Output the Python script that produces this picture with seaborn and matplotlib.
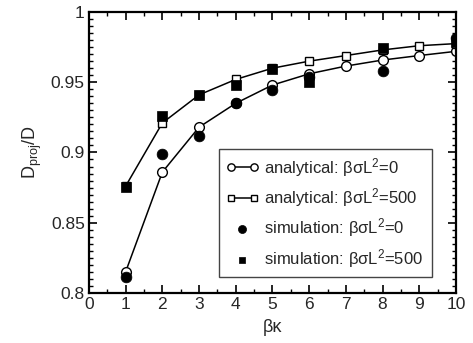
import matplotlib
matplotlib.use("Agg")
import matplotlib.pyplot as plt
import seaborn as sns
import pandas as pd
from matplotlib.ticker import MultipleLocator

sns.set_theme(style="ticks")
plt.rcParams['font.family'] = ['Liberation Sans', 'DejaVu Sans']
plt.rcParams['mathtext.fontset'] = 'custom'
plt.rcParams['mathtext.rm'] = 'Liberation Sans'
plt.rcParams['mathtext.it'] = 'Liberation Sans'

kappa = [1, 2, 3, 4, 5, 6, 7, 8, 9, 10]
analytical_0 = [0.815, 0.886, 0.918, 0.935, 0.948, 0.956, 0.9615, 0.9658, 0.969, 0.972]
analytical_500 = [0.876, 0.921, 0.941, 0.952, 0.960, 0.965, 0.969, 0.973, 0.976, 0.9775]

sim_kappa = [1, 2, 3, 4, 5, 6, 8, 10]
simulation_0 = [0.8116, 0.8987, 0.912, 0.9355, 0.9445, 0.9535, 0.958, 0.9813]
simulation_500 = [0.8757, 0.926, 0.941, 0.948, 0.9594, 0.950, 0.9746, 0.9789]

labels = [r"analytical: βσL$^{2}$=0", r"analytical: βσL$^{2}$=500",
          r"simulation: βσL$^{2}$=0", r"simulation: βσL$^{2}$=500"]

fig = plt.figure(figsize=(4.73, 3.43), dpi=100)
ax = fig.add_axes([0.188, 0.146, 0.776, 0.819])

df_a0 = pd.DataFrame({"x": kappa, "y": analytical_0})
df_a5 = pd.DataFrame({"x": kappa, "y": analytical_500})
df_s0 = pd.DataFrame({"x": sim_kappa, "y": simulation_0})
df_s5 = pd.DataFrame({"x": sim_kappa, "y": simulation_500})

sns.lineplot(data=df_a0, x="x", y="y", ax=ax, color="black", lw=1.1, marker="o",
             markersize=7, markerfacecolor="white", markeredgecolor="black",
             markeredgewidth=1.0, label=labels[0], zorder=2)
sns.lineplot(data=df_a5, x="x", y="y", ax=ax, color="black", lw=1.1, marker="s",
             markersize=6.3, markerfacecolor="white", markeredgecolor="black",
             markeredgewidth=1.0, label=labels[1], zorder=2)
sns.scatterplot(data=df_s0, x="x", y="y", ax=ax, color="black", marker="o", s=60,
                edgecolor="black", linewidth=0.5, label=labels[2], zorder=3)
sns.scatterplot(data=df_s5, x="x", y="y", ax=ax, color="black", marker="s", s=44,
                edgecolor="black", linewidth=0.5, label=labels[3], zorder=3)

ax.set_xlim(0, 10)
ax.set_ylim(0.8, 1.0)
ax.xaxis.set_major_locator(MultipleLocator(1))
ax.xaxis.set_minor_locator(MultipleLocator(0.5))
ax.yaxis.set_major_locator(MultipleLocator(0.05))
ax.yaxis.set_minor_locator(MultipleLocator(0.005))
ax.set_yticks([0.8, 0.85, 0.9, 0.95, 1.0])
ax.set_yticklabels(["0.8", "0.85", "0.9", "0.95", "1"])
ax.tick_params(which="both", direction="in", top=True, right=True, color="black")
ax.tick_params(which="major", length=6, width=1.2, labelsize=12.5, pad=3)
ax.tick_params(which="minor", length=3, width=1.0)
for s in ax.spines.values():
    s.set_linewidth(1.6)
    s.set_color("black")

ax.set_xlabel("βκ", fontsize=13, labelpad=5)
ax.set_ylabel(r"D$_{\mathrm{proj}}$/D", fontsize=13, labelpad=5)

leg = ax.legend(loc="upper left", bbox_to_anchor=(0.354, 0.075, 0.58, 0.437),
                mode="expand", borderaxespad=0, numpoints=2, markerscale=0.75,
                scatterpoints=1, fontsize=12, frameon=True, fancybox=False,
                framealpha=1, edgecolor="#444444", handlelength=2.0,
                borderpad=0.4, labelspacing=0.45, handletextpad=0.3)
leg.get_frame().set_linewidth(1.0)

fig.savefig("out.png", dpi=100)
